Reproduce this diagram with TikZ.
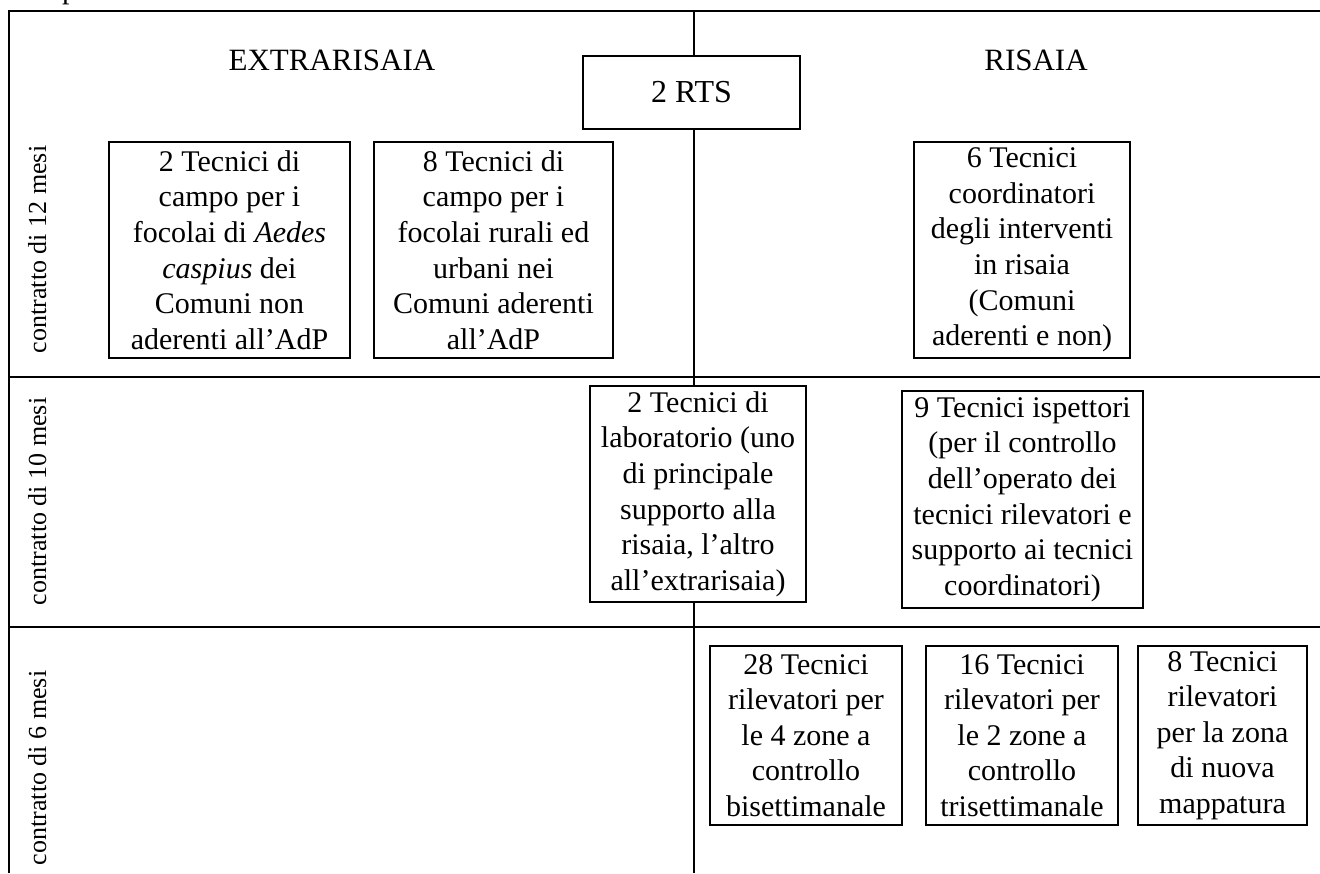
\documentclass[tikz,border=0pt]{standalone}
\usepackage{fontspec}
\setmainfont{Liberation Serif}
\begin{document}
\begin{tikzpicture}[x=0.5pt,y=-0.5pt,line width=1pt,
  box/.style={draw,inner sep=0pt,align=center,fill=white,font=\fontsize{15}{17.8}\selectfont},
  sz/.style 2 args={minimum width={#1*0.5pt},minimum height={#2*0.5pt}},
  title/.style={inner sep=0pt,font=\fontsize{15.5}{18}\selectfont},
  rowlab/.style={inner sep=0pt,rotate=90,anchor=base west,font=\fontsize{13}{15}\selectfont}]
\useasboundingbox (0,0) rectangle (1320,873);
% frame and grid
\coordinate (tl) at (9,11);
\coordinate (tr) at (1320,11);
\coordinate (bl) at (9,873);
\coordinate (r1l) at (9,377);
\coordinate (r1r) at (1320,377);
\coordinate (r2l) at (9,627);
\coordinate (r2r) at (1320,627);
\coordinate (vt) at (694,11);
\coordinate (vb) at (694,873);
\draw (tr) -- (tl) -- (bl);
\draw (r1l) -- (r1r);
\draw (r2l) -- (r2r);
% cut text at top
\node[anchor=base west,inner sep=0pt,font=\fontsize{15}{18}\selectfont] (pcut) at (61,-1.5) {p};
% titles
\node[title,anchor=base] (ext) at (332,70) {EXTRARISAIA};
\node[title,anchor=base] (ris) at (1036,70) {RISAIA};
% boxes
\node[box,sz={217}{73},font=\fontsize{16}{18}\selectfont] (rts) at (691.5,92) {2 RTS};
\node[box,sz={241}{216}] (a) at (229.5,250) {2 Tecnici di\\campo per i\\focolai di \textit{Aedes}\\\textit{caspius} dei\\Comuni non\\aderenti all’AdP};
\node[box,sz={239}{216}] (b) at (493.5,250) {8 Tecnici di\\campo per i\\focolai rurali ed\\urbani nei\\Comuni aderenti\\all’AdP};
\node[box,sz={216}{216}] (c) at (1022,250) {6 Tecnici\\coordinatori\\degli interventi\\in risaia\\(Comuni\\aderenti e non)};
\node[box,sz={216}{216}] (lab) at (698,494) {2 Tecnici di\\laboratorio (uno\\di principale\\supporto alla\\risaia, l’altro\\all’extrarisaia)};
\node[box,sz={241}{217}] (isp) at (1022.5,499.5) {9 Tecnici ispettori\\(per il controllo\\dell’operato dei\\tecnici rilevatori e\\supporto ai tecnici\\coordinatori)};
\node[box,sz={192}{179}] (t28) at (806,735.5) {28 Tecnici\\rilevatori per\\le 4 zone a\\controllo\\bisettimanale};
\node[box,sz={192}{179}] (t16) at (1022,735.5) {16 Tecnici\\rilevatori per\\le 2 zone a\\controllo\\trisettimanale};
\node[box,sz={169}{179}] (t8) at (1222.5,735.5) {8 Tecnici\\rilevatori\\per la zona\\di nuova\\mappatura};
% vertical divider
\draw (vt) -- (vt |- rts.north);
\draw (vt |- rts.south) -- (vt |- lab.north);
\draw (vt |- lab.south) -- (vb);
% row labels
\node[rowlab] (l12) at (46,354) {contratto di 12 mesi};
\node[rowlab] (l10) at (46,606) {contratto di 10 mesi};
\node[rowlab] (l6) at (46,866) {contratto di 6 mesi};
\end{tikzpicture}
\end{document}
